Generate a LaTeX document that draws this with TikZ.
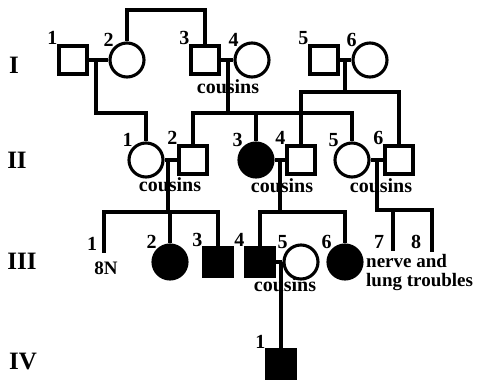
\documentclass[tikz,border=0pt]{standalone}
\usepackage{fontspec}
\setmainfont{Liberation Serif}
\usetikzlibrary{positioning}
\tikzset{
  homem/.style={rectangle, draw=black, line width=3.1pt, minimum size=28pt, inner sep=0pt},
  mulher/.style={circle, draw=black, line width=3.1pt, minimum size=34pt, inner sep=0pt},
  afetado/.style={fill=black},
  linha/.style={line width=3.1pt},
  numero/.style={font=\fontsize{20}{20}\selectfont\bfseries, inner sep=0pt},
  nota/.style={font=\fontsize{20}{17}\selectfont\bfseries, inner sep=0pt, align=left},
  geracao/.style={font=\fontsize{25}{25}\selectfont\bfseries, inner sep=0pt}
}
\begin{document}
\begin{tikzpicture}[x=1pt, y=-1pt]
\useasboundingbox (0,0) rectangle (477,382);
% geracoes
\node[geracao] (gI) at (14,65) {I};
\node[geracao] (gII) at (17,160) {II};
\node[geracao] (gIII) at (22,261) {III};
\node[geracao] (gIV) at (23,362) {IV};
% geracao I
\node[homem, label={[numero]north west:1}] (I1) at (73,60) {};
\node[mulher, label={[numero]north west:2}] (I2) at (127,60) {};
\node[homem, label={[numero]north west:3}] (I3) at (205,60) {};
\node[mulher, label={[numero]north west:4}] (I4) at (252,60) {};
\node[homem, label={[numero]north west:5}] (I5) at (324,60) {};
\node[mulher, label={[numero]north west:6}] (I6) at (370,60) {};
\node[nota] (cI34) at (228,87) {cousins};
% geracao II
\node[mulher, label={[numero]north west:1}] (II1) at (146,160) {};
\node[homem, label={[numero]north west:2}] (II2) at (193,160) {};
\node[mulher, afetado, label={[numero]north west:3}] (II3) at (256,160) {};
\node[homem, label={[numero]north west:4}] (II4) at (301,160) {};
\node[mulher, label={[numero]north west:5}] (II5) at (352,160) {};
\node[homem, label={[numero]north west:6}] (II6) at (399,160) {};
\node[nota] (cII12) at (170,185) {cousins};
\node[nota] (cII34) at (282,186) {cousins};
\node[nota] (cII56) at (381,186) {cousins};
% geracao III
\coordinate (III1) at (104,253);
\node[numero] (nIII1) at (92,244) {1};
\node[nota, font=\fontsize{19}{19}\selectfont\bfseries] (oitoN) at (106,268) {8N};
\node[mulher, afetado, label={[numero]north west:2}] (III2) at (170,262) {};
\node[homem, afetado, label={[numero]north west:3}] (III3) at (218,262) {};
\node[homem, afetado, label={[numero]north west:4}] (III4) at (260,262) {};
\node[mulher, label={[numero]north west:5}] (III5) at (301,262) {};
\node[mulher, afetado, label={[numero]north west:6}] (III6) at (345,262) {};
\coordinate (III7) at (393,251);
\coordinate (III8) at (432,252);
\node[numero] (nIII7) at (379,242) {7};
\node[numero] (nIII8) at (416,242) {8};
\node[nota, font=\fontsize{19}{19.5}\selectfont\bfseries, anchor=north west] (doenca) at (366,254) {nerve and\\lung troubles};
\node[nota] (cIII45) at (285,285) {cousins};
% geracao IV
\node[homem, afetado, label={[numero]north west:1}] (IV1) at (281,364) {};
% pontos de juncao
\coordinate (topo) at (165,10);
\coordinate (d12) at (96,113);
\coordinate (s34) at (228,113);
\coordinate (s56) at (345,92);
\coordinate (sII12) at (168,212);
\coordinate (sII34) at (280,212);
\coordinate (sII56) at (377,210);
% casamentos
\draw[linha] (I1.east)--(I2.west); \draw[linha] (I3.east)--(I4.west); \draw[linha] (I5.east)--(I6.west);
\draw[linha] (II1.east)--(II2.west); \draw[linha] (II3.east)--(II4.west); \draw[linha] (II5.east)--(II6.west);
\draw[linha] (III4.east)--(III5.west);
% descendencia
\draw[linha] (I2.north) |- (topo) -| (I3.north);
\draw[linha] (d12 |- I1.east) -- (d12) -| (II1.north);
\draw[linha] (s34 |- I3.east) -- (s34);
\draw[linha] (II2.north) |- (s34) -| (II5.north);
\draw[linha] (II3.north) -- (II3.north |- s34);
\draw[linha] (s56 |- I5.east) -- (s56);
\draw[linha] (II4.north) |- (s56) -| (II6.north);
\draw[linha] (sII12 |- II1.east) -- (sII12);
\draw[linha] (III1) |- (sII12) -| (III3.north);
\draw[linha] (III2.north) -- (III2.north |- sII12);
\draw[linha] (sII34 |- II3.east) -- (sII34);
\draw[linha] (III4.north) |- (sII34) -| (III6.north);
\draw[linha] (sII56 |- II5.east) -- (sII56) -| (III8);
\draw[linha] (III7) -- (III7 |- sII56);
\draw[linha] (IV1.north |- III4.east) -- (IV1.north);
\end{tikzpicture}
\end{document}
